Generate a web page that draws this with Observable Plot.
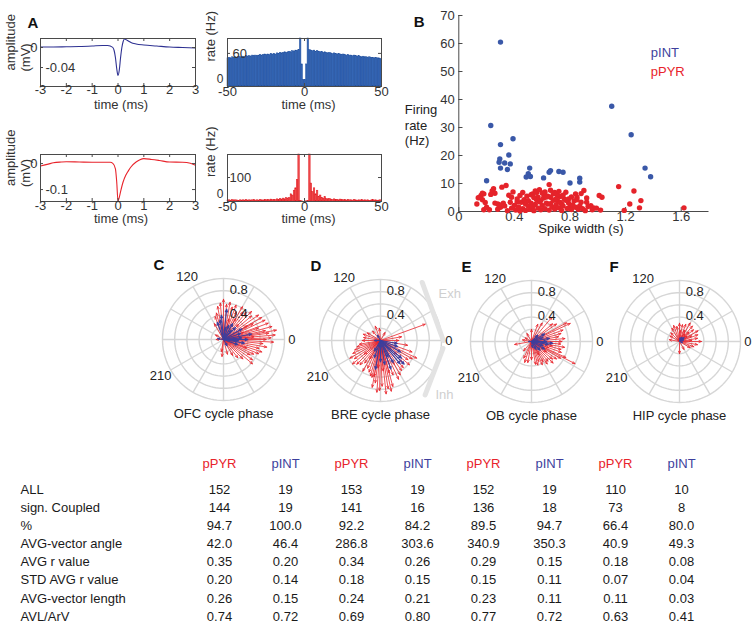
<!DOCTYPE html>
<html><head><meta charset="utf-8">
<script src="https://cdn.jsdelivr.net/npm/d3@7"></script>
<script src="https://cdn.jsdelivr.net/npm/@observablehq/plot@0.6"></script>
<style>
html,body{margin:0;padding:0;background:#fff;overflow:hidden}
#fig{position:relative;width:756px;height:625px;font-family:"Liberation Sans",Arial,Helvetica,sans-serif}
#fig svg{position:absolute;left:0;top:0}
</style></head><body><div id="fig"></div>
<script>
// ---------------- DATA ----------------
// Panel A: average waveforms (time in ms, amplitude in mV)
const intWaveT = [-3,-2.5,-2,-1.5,-1,-0.6,-0.4,-0.3,-0.2,-0.15,-0.1,-0.05,0,0.05,0.1,0.15,0.2,0.25,0.3,0.4,0.5,0.7,1,1.5,2,2.5,3];
const intWaveV = [0.001,0.001,0.0015,0.002,0.003,0.004,0.004,0.003,0.0,-0.006,-0.02,-0.042,-0.056,-0.045,-0.02,0.0,0.012,0.017,0.016,0.013,0.01,0.007,0.005,0.003,0.001,0.0,-0.001];
const pyrWaveT = [-3,-2.7,-2.5,-2.2,-2,-1.5,-1,-0.6,-0.3,-0.2,-0.1,-0.05,0,0.05,0.1,0.2,0.3,0.4,0.5,0.7,0.85,1,1.3,1.6,2,2.5,2.8,3];
const pyrWaveV = [-0.009,-0.002,0.003,0.006,0.007,0.006,0.005,0.005,0.005,0.001,-0.02,-0.07,-0.143,-0.13,-0.108,-0.07,-0.045,-0.028,-0.013,0.006,0.015,0.019,0.016,0.012,0.006,0.005,0.001,-0.006];
const waveTimeTicks = [-3,-2,-1,0,1,2,3];
const intWaveYTicks = [0,-0.04];
const pyrWaveYTicks = [0,-0.1];

// Panel A: autocorrelograms, 1-ms bins from -50 to 50 ms (rate, Hz)
const acgBinStart = d3.range(-50, 50);
const intAcg = [51,52,51,53,52,53,52,54,53,53, 54,53,55,54,55,54,56,55,56,55, 56,57,56,57,58,57,58,57,59,58, 59,58,60,59,61,60,61,62,61,62, 63,62,64,63,65,64,66,
  200,40,12,12,40,200,
  66,65,64,65,63,64,63, 62,63,61,62,61,60,61,60,59,60, 59,58,59,58,57,58,57,56,57,56, 56,55,56,55,54,55,54,53,54,53, 53,52,53,52,52,51,52,51,51,50];
const pyrAcg = [4,5,3,6,4,5,4,3,5,4, 5,4,6,3,5,4,5,6,4,5, 4,6,5,4,7,5,6,5,8,6, 7,6,9,7,10,8,12,9,14,11,
  15,30,25,45,55,90, 300, 3,1,0,0,1,3, 300, 75,40,55,30,45,20,
  25,15,12,18,10,9,11,8,7,9, 6,7,5,8,6,5,7,4,6,5, 5,4,6,5,3,5,4,6,4,5, 4,5,3,4,6,4,5,3,4,5];
const acgTimeTicks = [-50,0,50];
const intAcgYTicks = [0,60];
const pyrAcgYTicks = [0,100];

// Panel B: spike width (s) vs firing rate (Hz)
const intPoints = [[0.30,60.5],[0.23,30.7],[0.30,23.9],[0.39,26],[0.36,20.2],[0.295,18.8],[0.29,17.6],[0.33,17.3],[0.37,17],[0.30,15.5],[0.35,15],[0.20,11],
  [0.51,15.5],[0.50,13.5],[0.485,12.3],[0.515,12.5],[0.61,12],[0.65,14],[0.66,14.6],[0.72,14.3],[0.75,14],[0.80,10.2],[0.87,11.9],[0.87,10.5],
  [1.10,37.6],[1.24,27.4],[1.34,15.5],[1.38,12.4]];
const pyrPoints = [[0.34,9.3],[0.31,8.7],[0.25,8.1],[0.24,7.3],[0.26,6.5],[0.23,6.1],[0.18,6.3],[0.16,5.7],[0.14,4.9],[0.17,4.2],[0.13,2.7],[0.18,0.6],
  [0.28,2.7],[0.30,1.5],[0.32,3],[0.38,5.1],[0.37,3.3],[0.42,4.5],[0.44,5.7],[0.45,3.3],[0.48,2.7],[0.50,3.9],[0.53,6.3],[0.55,7.3],[0.57,5.1],
  [0.59,3.9],[0.61,6.3],[0.64,2.7],[0.65,9.6],[0.66,5.1],[0.68,6.3],[0.71,3.9],[0.73,5.4],[0.74,2.7],[0.77,6.9],[0.79,4.5],[0.80,1.5],[0.84,6.3],
  [0.85,5.1],[0.88,3.3],[0.90,7.5],[0.92,3.3],[0.95,2.1],[0.97,1.3],[1.01,5.7],[1.03,5.1],[1.15,8.9],[1.19,0.4],[1.23,2.7],[1.26,7.3],[1.30,1.3],
  [1.31,3.9],[1.62,1.3],
  [0.46,1.0],[0.48,0.4],[0.50,2.0],[0.51,0.8],[0.52,3.0],[0.53,1.5],[0.54,0.3],[0.55,2.5],[0.56,4.2],[0.57,1.2],[0.58,3.5],[0.59,0.6],[0.60,2.2],
  [0.61,4.8],[0.62,1.0],[0.63,3.0],[0.64,5.5],[0.65,0.5],[0.66,2.8],[0.67,1.6],[0.68,4.0],[0.69,0.9],[0.70,2.4],[0.71,5.8],[0.72,1.3],[0.73,3.2],
  [0.74,0.4],[0.75,2.0],[0.76,4.4],[0.78,1.1],[0.79,3.0],[0.81,0.7],[0.82,2.3],[0.84,1.5],[0.86,0.8],[0.87,2.0],[0.89,1.0],[0.91,0.3],[0.93,1.8],
  [0.96,0.6],[0.99,1.2],[1.02,0.5],
  [0.47,4.2],[0.49,5.5],[0.52,6.0],[0.54,5.0],[0.56,6.8],[0.58,7.8],[0.60,6.6],[0.62,7.0],[0.63,5.2],[0.66,7.6],[0.69,6.8],[0.70,4.5],[0.72,7.2],
  [0.75,5.8],[0.77,4.0],[0.81,5.2],[0.83,3.8],[0.85,4.2],[0.88,6.4],[0.92,4.8],
  [0.40,2.2],[0.41,0.5],[0.42,3.5],[0.43,1.6],[0.44,0.2],[0.46,6.8],[0.38,1.2],[0.35,0.3],[0.33,2.0],[0.28,0.8],[0.29,2.4],[0.26,3.0],[0.22,0.6],
  [0.20,1.5],[0.19,3.2],[0.17,6.5],[0.15,5.0],[0.36,5.8],[0.39,7.0]];
const widthTicks = [0,0.4,0.8,1.2,1.6];
const rateTicks = [0,10,20,30,40,50,60,70];

// Panels C-F: phase-locking vectors [angle (deg), length]
const ofcPYR = [[95,.6],[90,.66],[100,.55],[105,.45],[85,.58],[80,.62],[75,.55],[70,.6],[65,.5],[60,.62],[55,.55],[50,.58],[45,.65],[40,.6],[35,.7],[30,.72],[28,.55],[25,.75],[20,.78],[18,.6],[15,.82],[12,.7],[10,.88],[8,.75],[5,.85],[2,.78],[0,.7],[-3,.82],[-6,.65],[-10,.72],[-14,.6],[-18,.66],[-22,.62],[-26,.55],[-30,.5],[-35,.58],[-40,.62],[-45,.45],[-52,.38],[-60,.3],[-75,.25],[-95,.28],[-100,.2],[110,.4],[120,.3],[150,.15],[180,.12],[60,.4],[30,.45],[20,.35],[45,.35],[75,.35],[-20,.4],[5,.5]];
const ofcINT = [[84,.5],[100,.33],[110,.3],[95,.4],[60,.3],[45,.28],[30,.35],[11,.47],[0,.4],[-10,.35],[-20,.25],[170,.1],[-60,.12],[20,.3],[70,.25],[50,.2],[5,.3],[-5,.25],[80,.2]];
const brePYR = [[20,.78],[10,.35],[0,.3],[-10,.45],[-20,.55],[-26,.66],[-30,.6],[-35,.55],[-40,.62],[-45,.5],[-50,.58],[-55,.6],[-60,.65],[-65,.7],[-70,.6],[-75,.78],[-78,.85],[-81,.8],[-84,.88],[-88,.75],[-91,.82],[-94,.85],[-97,.7],[-100,.78],[-103,.62],[-106,.6],[-110,.55],[-115,.5],[-120,.58],[-125,.45],[-130,.52],[-135,.55],[-140,.6],[-145,.52],[-150,.58],[-155,.5],[-160,.45],[-165,.4],[-170,.35],[180,.3],[170,.28],[160,.3],[150,.25],[130,.2],[110,.25],[95,.2],[60,.15],[-85,.5],[-95,.45],[-70,.4],[-140,.35],[-40,.35],[-60,.45],[-120,.35],[-100,.6],[-75,.55]];
const breINT = [[-30,.38],[-40,.45],[-50,.5],[-60,.42],[-70,.5],[-80,.4],[-90,.35],[-100,.48],[-110,.3],[-20,.3],[-10,.28],[-45,.55],[-65,.3],[180,.1],[120,.1],[-120,.2]];
const obPYR = [[50,.52],[40,.45],[35,.5],[28,.65],[25,.7],[20,.55],[15,.5],[10,.45],[5,.55],[0,.5],[-5,.48],[-10,.55],[-15,.5],[-20,.52],[-25,.62],[-27,.8],[-30,.55],[-35,.5],[-40,.45],[-45,.5],[-50,.42],[-55,.45],[-60,.38],[-65,.42],[-70,.35],[-75,.4],[-80,.38],[-90,.3],[-100,.35],[-108,.36],[-115,.3],[-130,.2],[190,.28],[170,.15],[150,.12],[120,.15],[90,.2],[70,.3],[60,.35],[-12,.35],[-35,.3],[10,.3],[-60,.25],[-20,.3]];
const obINT = [[10,.3],[20,.2],[0,.25],[-10,.28],[-20,.2],[-30,.25],[-45,.2],[30,.25],[45,.15],[-60,.15],[-5,.35],[180,.05],[-80,.1]];
const hipPYR = [[0,.36],[-10,.3],[10,.3],[20,.32],[30,.35],[40,.3],[50,.33],[60,.35],[70,.3],[80,.28],[90,.3],[100,.25],[110,.28],[120,.25],[135,.2],[150,.18],[170,.17],[-90,.2],[-60,.15],[-30,.2],[-20,.25],[25,.22],[45,.22],[65,.2],[85,.18],[5,.2],[35,.15],[55,.15]];
const hipINT = [[40,.1],[60,.08],[20,.07],[80,.06],[-20,.05],[50,.05]];
const polarRings = [0.2,0.4,0.6,0.8,1.0];
const polarSpokes = d3.range(0, 360, 30);
const polarRadialTicks = [0.4, 0.8];
const polarAngleLabels = ["120", "210"];
const exhInhArcs = [[-37,-5],[0,40]]; // degrees along the gray arc

// Table
const tableGroups = ["pPYR","pINT","pPYR","pINT","pPYR","pINT","pPYR","pINT"];
const tableRowLabels = ["ALL","sign. Coupled","%","AVG-vector angle","AVG r value","STD AVG r value","AVG-vector length","AVL/ArV"];
const rowDecimals = [0,0,1,1,2,2,2,2];
const rowAll = [152,19,153,19,152,19,110,10];
const rowCoupled = [144,19,141,16,136,18,73,8];
const rowPercent = [94.7,100.0,92.2,84.2,89.5,94.7,66.4,80.0];
const rowAngle = [42.0,46.4,286.8,303.6,340.9,350.3,40.9,49.3];
const rowAvgR = [0.35,0.20,0.34,0.26,0.29,0.15,0.18,0.08];
const rowStdR = [0.20,0.14,0.18,0.15,0.15,0.11,0.07,0.04];
const rowVecLen = [0.26,0.15,0.24,0.21,0.23,0.11,0.11,0.03];
const rowAvlArv = [0.74,0.72,0.69,0.80,0.77,0.72,0.63,0.41];

// ---------------- DRAWING ----------------
const W = 756, H = 625;
const FONT = '"Liberation Sans", Arial, Helvetica, sans-serif';
const RED = "#e8232b", NAVY = "#2e3192", DOTBLUE = "#3a58a8", INTC = "#3d3f9d";
const GRID = "#d6d6d6", AX = "#4a4a4a", TXT = "#2a2a2a";
const TICKFS = 12;
const rad = a => a * Math.PI / 180;
const fig = document.getElementById("fig");

function chart({frame: [l, r, t, b], x, y, marks}) {
  const svg = Plot.plot({
    width: W, height: H,
    marginLeft: l, marginRight: W - r, marginTop: t, marginBottom: H - b,
    x: {...x, axis: null}, y: {...y, axis: null},
    style: {background: "transparent", fontFamily: FONT, fontSize: "13px", color: TXT, overflow: "visible"},
    marks
  });
  fig.appendChild(svg);
}

function boxTicks(xt, yt, xd, yd, pxW, pxH) {
  const kx = 3 / pxW * (xd[1] - xd[0]), ky = 3 / pxH * (yd[1] - yd[0]);
  return [
    Plot.ruleX(xt, {x: d => d, y1: yd[0], y2: yd[0] + ky, stroke: AX}),
    Plot.ruleX(xt, {x: d => d, y1: yd[1], y2: yd[1] - ky, stroke: AX}),
    Plot.ruleY(yt, {y: d => d, x1: xd[0], x2: xd[0] + kx, stroke: AX}),
    Plot.ruleY(yt, {y: d => d, x1: xd[1], x2: xd[1] - kx, stroke: AX})
  ];
}

function waveform({frame, T, V, color, yDomain, yTicks, tickDy, titleDy, letter}) {
  const xd = [-3, 3];
  chart({frame, x: {domain: xd}, y: {domain: yDomain}, marks: [
    Plot.line(d3.range(T.length), {x: i => T[i], y: i => V[i], stroke: color, strokeWidth: 1.1, curve: "monotone-x"}),
    Plot.frame({stroke: AX}),
    ...boxTicks(waveTimeTicks, yTicks, xd, yDomain, frame[1] - frame[0], frame[3] - frame[2]),
    Plot.text(waveTimeTicks, {x: d => d, frameAnchor: "bottom", dy: tickDy, text: d => String(d), fill: "#333", fontSize: 13}),
    Plot.text(["time (ms)"], {frameAnchor: "bottom", dy: titleDy, dx: 3, fill: "#333"}),
    Plot.text(yTicks.slice(0, 1), {x: xd[0], y: d => d, text: d => String(d), textAnchor: "end", dx: -3, fill: "#333"}),
    Plot.text(yTicks.slice(1), {x: xd[0], y: d => d, text: d => String(d), textAnchor: "start", dx: 5, fill: "#333"}),
    Plot.text(["amplitude"], {frameAnchor: "left", rotate: -90, dx: -30, dy: 8, fill: "#333"}),
    Plot.text(["(mV)"], {frameAnchor: "left", rotate: -90, dx: -15, dy: 9, fill: "#333"}),
    ...(letter ? [Plot.text([letter], {frameAnchor: "top-left", dx: -13, dy: -21, fontWeight: "bold", fontSize: 15, fill: "#111"})] : [])
  ]});
}

function acg({frame, vals, fill, stroke, yDomain, yTicks, tickDy, titleDy, zeroDy, tickDx}) {
  const xd = [-50, 50];
  chart({frame, x: {domain: xd}, y: {domain: yDomain, clamp: true}, marks: [
    Plot.rectY(d3.range(vals.length), {x1: i => acgBinStart[i], x2: i => acgBinStart[i] + 1, y: i => vals[i], fill, stroke, strokeWidth: 0.5}),
    Plot.frame({stroke: AX}),
    ...boxTicks(acgTimeTicks, yTicks, xd, yDomain, frame[1] - frame[0], frame[3] - frame[2]),
    Plot.text(acgTimeTicks, {x: d => d, frameAnchor: "bottom", dy: tickDy, text: d => String(d), fill: "#333"}),
    Plot.text(["time (ms)"], {frameAnchor: "bottom", dy: titleDy, dx: 4, fill: "#333"}),
    Plot.text(yTicks.slice(0, 1), {x: xd[0], y: d => d, text: d => String(d), textAnchor: "end", dx: -4, dy: zeroDy, fill: "#333", fontSize: TICKFS}),
    Plot.text(yTicks.slice(1), {x: xd[0], y: d => d, text: d => String(d), textAnchor: "start", dx: tickDx, fill: "#333"}),
    Plot.text(["rate (Hz)"], {frameAnchor: "left", rotate: -90, dx: -17, dy: -1, fill: "#333"})
  ]});
}

// Panel A
waveform({frame: [40, 195, 38, 86], T: intWaveT, V: intWaveV, color: NAVY, yDomain: [-0.078, 0.018], yTicks: intWaveYTicks, tickDy: 7, titleDy: 22, letter: "A"});
acg({frame: [227, 381, 38, 86], vals: intAcg, fill: "#3466b5", stroke: "#21509f", yDomain: [0, 87], yTicks: intAcgYTicks, tickDy: 9, titleDy: 22, zeroDy: -7, tickDx: 5});
waveform({frame: [40, 195, 154, 201], T: pyrWaveT, V: pyrWaveV, color: RED, yDomain: [-0.146, 0.035], yTicks: pyrWaveYTicks, tickDy: 8, titleDy: 21});
acg({frame: [227, 381, 154, 201], vals: pyrAcg, fill: "#ef4a4a", stroke: "#e21d24", yDomain: [0, 196], yTicks: pyrAcgYTicks, tickDy: 9, titleDy: 21, zeroDy: -7, tickDx: 2});

// Panel B
chart({frame: [458.3, 708.5, 15, 211], x: {domain: [0, 1.8]}, y: {domain: [0, 70]}, marks: [
  Plot.ruleY([0], {stroke: AX}),
  Plot.ruleX([0], {stroke: AX}),
  Plot.ruleY(rateTicks, {y: d => d, x1: 0, x2: 0.03, stroke: AX}),
  Plot.ruleX(widthTicks, {x: d => d, y1: 0, y2: 1.4, stroke: AX}),
  Plot.text(rateTicks, {y: d => d, frameAnchor: "left", textAnchor: "end", dx: -4, text: d => String(d), fill: "#333"}),
  Plot.text(widthTicks, {x: d => d, frameAnchor: "bottom", dy: 9, text: d => d === 0 ? "0" : d.toFixed(1), fill: "#333"}),
  Plot.text(["Spike width (s)"], {frameAnchor: "bottom", dy: 21, dx: -3, fill: "#222"}),
  Plot.text(["Firing\nrate\n(Hz)"], {frameAnchor: "left", textAnchor: "start", dx: -54, dy: 11, lineHeight: 1.2, fill: "#222"}),
  Plot.dot(pyrPoints, {x: d => d[0], y: d => d[1], r: 2.7, fill: "#e5232a"}),
  Plot.dot(intPoints, {x: d => d[0], y: d => d[1], r: 2.7, fill: DOTBLUE}),
  Plot.text(["pINT"], {frameAnchor: "top-left", dx: 192, dy: 32, textAnchor: "start", fill: INTC}),
  Plot.text(["pPYR"], {frameAnchor: "top-left", dx: 192, dy: 51, textAnchor: "start", fill: RED}),
  Plot.text(["B"], {frameAnchor: "top-left", dx: -45, dy: 1, fontWeight: "bold", fontSize: 15, fill: "#111"})
]});

// Panels C-F
const ringPts = polarRings.flatMap(r => d3.range(0, 361, 3).map(a => ({r, x: r * Math.cos(rad(a)), y: r * Math.sin(rad(a))})));
function polar({cx, cy, R, pyr, int, title, letter, extra = []}) {
  chart({frame: [cx - R, cx + R, cy - R, cy + R], x: {domain: [-1, 1]}, y: {domain: [-1, 1]}, marks: [
    Plot.line(ringPts, {x: "x", y: "y", z: "r", stroke: GRID, strokeWidth: 1.4}),
    Plot.link(polarSpokes, {x1: 0, y1: 0, x2: a => Math.cos(rad(a)), y2: a => Math.sin(rad(a)), stroke: GRID, strokeWidth: 1.4}),
    ...extra,
    Plot.arrow(pyr, {x1: 0, y1: 0, x2: d => d[1] * Math.cos(rad(d[0])), y2: d => d[1] * Math.sin(rad(d[0])), stroke: RED, strokeWidth: 0.8, headLength: 5, headAngle: 45}),
    Plot.arrow(int, {x1: 0, y1: 0, x2: d => d[1] * Math.cos(rad(d[0])), y2: d => d[1] * Math.sin(rad(d[0])), stroke: INTC, strokeWidth: 1.1, headLength: 4, headAngle: 45}),
    Plot.text(polarAngleLabels, {x: d => 1.19 * Math.cos(rad(+d)), y: d => 1.19 * Math.sin(rad(+d)), text: d => d, fill: "#222"}),
    Plot.text(["0"], {x: 1.06, y: 0, textAnchor: "start", fill: "#222"}),
    Plot.text(polarRadialTicks, {x: 0.25, y: d => d + 0.02, text: d => d.toFixed(1), fill: "#222"}),
    Plot.text([title], {frameAnchor: "bottom", dy: 17, fill: "#222"}),
    Plot.text([letter], {frameAnchor: "top-left", dx: -9, dy: -19, fontWeight: "bold", fontSize: 15, fill: "#111"})
  ]});
}
polar({cx: 223, cy: 339, R: 61, pyr: ofcPYR, int: ofcINT, title: "OFC cycle phase", letter: "C"});
const arcC = -0.45, arcR = 1.48;
polar({cx: 380, cy: 340, R: 61, pyr: brePYR, int: breINT, title: "BRE cycle phase", letter: "D", extra: [
  Plot.arrow(exhInhArcs, {
    x1: d => arcC + arcR * Math.cos(rad(d[0])), y1: d => arcR * Math.sin(rad(d[0])),
    x2: d => arcC + arcR * Math.cos(rad(d[1])), y2: d => arcR * Math.sin(rad(d[1])),
    bend: d => -(d[1] - d[0]) / 2, stroke: "#e3e3e3", strokeWidth: 5, headLength: 9, headAngle: 70
  }),
  Plot.text(["Exh"], {frameAnchor: "top-right", dx: -3, dy: 9, textAnchor: "start", fill: "#cfcfcf"}),
  Plot.text(["Inh"], {frameAnchor: "bottom-right", dx: -6, dy: -3, textAnchor: "start", fill: "#cfcfcf"})
]});
polar({cx: 531, cy: 341, R: 61, pyr: obPYR, int: obINT, title: "OB cycle phase", letter: "E"});
polar({cx: 679, cy: 341, R: 61, pyr: hipPYR, int: hipINT, title: "HIP cycle phase", letter: "F"});

// Table
const tableRows = [rowAll, rowCoupled, rowPercent, rowAngle, rowAvgR, rowStdR, rowVecLen, rowAvlArv];
const cells = tableRows.flatMap((row, r) => row.map((v, c) => ({r, c, t: v.toFixed(rowDecimals[r])})));
const cols = d3.range(tableGroups.length);
chart({frame: [20, 736, 450, 625], x: {type: "point", domain: cols, range: [182, 717]}, y: {domain: [0, 7], range: [489, 616]}, marks: [
  Plot.text(cols.filter(i => tableGroups[i] === "pPYR"), {x: i => i, y: -1.4, text: i => tableGroups[i], fill: RED}),
  Plot.text(cols.filter(i => tableGroups[i] === "pINT"), {x: i => i, y: -1.4, text: i => tableGroups[i], fill: INTC}),
  Plot.text(tableRowLabels, {y: (d, i) => i, frameAnchor: "left", textAnchor: "start", fill: "#1a1a1a"}),
  Plot.text(cells, {x: "c", y: "r", text: "t", fill: "#1a1a1a"})
]});
</script></body></html>
